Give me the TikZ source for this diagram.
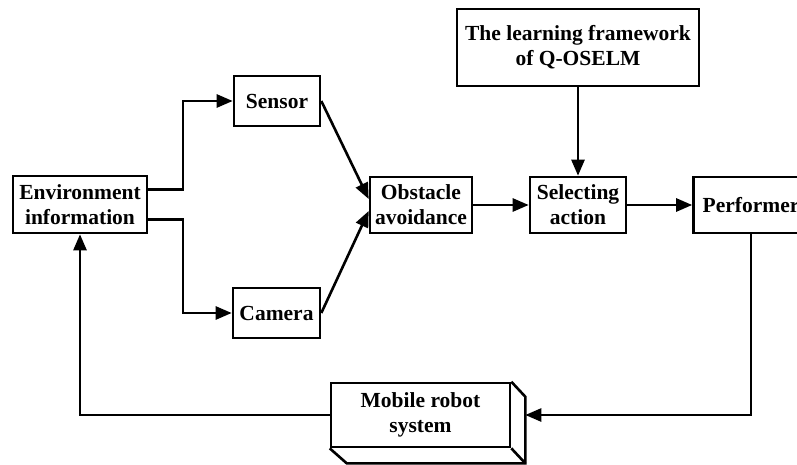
\documentclass[tikz,border=0pt]{standalone}
\usepackage{fontspec}
\setmainfont{Liberation Serif}
\usetikzlibrary{arrows.meta,calc}
\begin{document}
\begin{tikzpicture}[x=1pt,y=-1pt,
  box/.style={draw,line width=2.6pt,inner sep=0pt,align=center,font=\fontsize{21.5}{25}\selectfont\bfseries},
  arr/.style={line width=2.6pt,-{Triangle[length=16pt,width=13pt]}},
  ln/.style={line width=2.6pt}]
\useasboundingbox (0,0) rectangle (797,465);
\clip (0,0) rectangle (797,465);
\node[box,minimum width=134pt,minimum height=57pt] (env) at (80,204.5) {Environment\\information};
\node[box,minimum width=86pt,minimum height=50pt] (sen) at (277,101) {Sensor};
\node[box,minimum width=87pt,minimum height=50pt] (cam) at (276.5,313) {Camera};
\node[box,minimum width=102pt,minimum height=56pt] (obs) at (421,205) {Obstacle\\avoidance};
\node[box,minimum width=96pt,minimum height=56pt] (sel) at (578,205) {Selecting\\action};
\node[box,minimum width=242pt,minimum height=77pt] (q) at (578,47.5) {The learning framework\\of Q-OSELM};
\node[box,minimum width=115pt,minimum height=56pt] (perf) at (751,205) {Performer};
\node[box,minimum width=179pt,minimum height=64pt] (rob) at (420.5,415) {Mobile robot\\system};
% 3D faces of the robot box
\draw[ln,line join=miter] (rob.north east) -- ++(14,15) -- ($(rob.south east)+(14,15)$) -- ($(rob.south west)+(17,15)$) -- (rob.south west);
\draw[ln] (rob.south east) -- ++(14,15);
\coordinate (robR) at ($(rob.east)+(14,0)$);
% connectors
\coordinate (j1) at (183,189.5);
\coordinate (j2) at (183,219.5);
\draw[arr] (env.east|-j1) -- (j1) |- (sen.west);
\draw[arr] (env.east|-j2) -- (j2) |- (cam.west);
\draw[arr] (sen.east) -- ($(obs.west)+(0,-6)$);
\draw[arr] (cam.east) -- ($(obs.west)+(0,6)$);
\draw[arr] (obs.east) -- (sel.west);
\draw[arr] (sel.east) -- (perf.west);
\draw[arr] (q.south) -- (sel.north);
\draw[arr] (perf.south) |- (robR);
\draw[arr] (rob.west) -| (env.south);
\end{tikzpicture}
\end{document}
